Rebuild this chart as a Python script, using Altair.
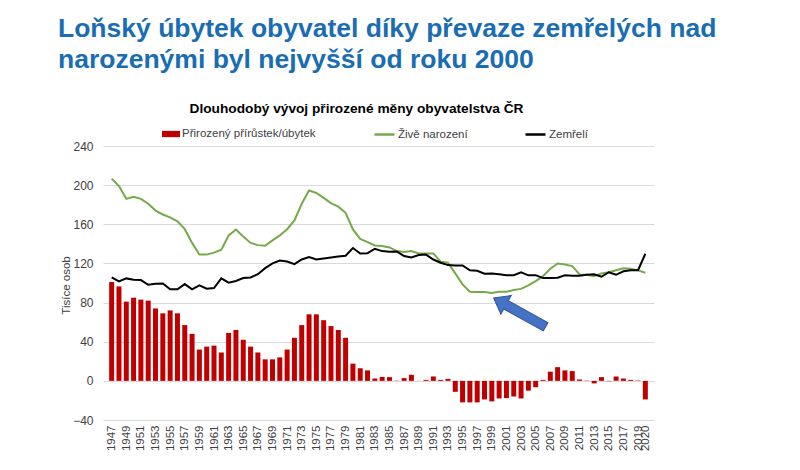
import altair as alt
import pandas as pd

# ---------------- data ----------------
years = list(range(1947, 2021))

increase = [
    101, 96.5, 81, 85, 83, 82, 74, 69, 72, 69,        # 1947-1956
    57, 48, 32, 35, 36, 29, 49, 52, 42, 35,           # 1957-1966
    29, 22, 22, 24, 32, 44, 57, 68, 68, 62,           # 1967-1976
    56, 52, 44, 17.6, 13, 10.7, 2.4, 4, 3.8, 0.3,     # 1977-1986
    2.8, 6.2, 0.1, 1, 4.5, 1, 2, -11.2, -22, -22,     # 1987-1996
    -22, -19, -21, -18, -17.6, -16, -18, -10, -6.5, 1,  # 1997-2006
    9.4, 14, 10.7, 10, 1.4, 0.3, -2.6, 3.8, -0.4, 4.5,  # 2007-2016
    2.4, 1, 0.4, -19,                                  # 2017-2020
]

births = [
    206.7, 199, 186, 188, 186, 181, 174, 170, 167, 163,       # 1947-1956
    155, 141, 129, 129, 131, 134, 148.6, 154.7, 147.6, 141,   # 1957-1966
    138.7, 138, 143.5, 148.6, 155, 164, 181, 194.5, 192, 187, # 1967-1976
    181.6, 178, 171.7, 154.7, 145, 141.8, 138.4, 137.7, 136.3, 132.6,  # 1977-1986
    131.6, 132.6, 130.2, 130.2, 130.2, 121.7, 120.7, 109.8, 98.6, 91,  # 1987-1996
    90.7, 90.7, 89.7, 91, 91, 92.8, 94, 97.6, 102, 107,       # 1997-2006
    114.6, 120, 119, 117.3, 108.8, 108.4, 107, 109.8, 111, 113,  # 2007-2016
    115, 114.6, 112.9, 110.5,                                 # 2017-2020
]

deaths = [
    105.7, 101.6, 104.7, 103.3, 103, 98.2, 99.3, 99.6, 93.5, 93.5,    # 1947-1956
    98.9, 93.5, 97.6, 94.2, 94.8, 104.7, 100.3, 102, 105, 105.7,      # 1957-1966
    109, 115.2, 120, 123, 122, 119.3, 124, 126.5, 124, 125,           # 1967-1976
    126, 127, 127.8, 135.7, 130.2, 130.5, 135, 132.6, 132, 132.2,     # 1977-1986
    127.5, 126, 128.5, 129, 124, 120.7, 118.3, 118, 118, 113,         # 1987-1996
    112.5, 109.5, 109.8, 109, 108, 108, 111, 107.8, 108, 105,         # 1997-2006
    105, 105.4, 107.8, 107.4, 107.4, 108.4, 109, 106.4, 111, 108.4,   # 2007-2016
    112, 113, 113, 129.9,                                             # 2017-2020
]

label_years = list(range(1947, 2020, 2)) + [2020]
y_ticks = [-40, 0, 40, 80, 120, 160, 200, 240]

BAR_NAME = "Přirozený přírůstek/úbytek"
BIRTHS_NAME = "Živě narození"
DEATHS_NAME = "Zemřelí"
MAIN_TITLE = ["Loňský úbytek obyvatel díky převaze zemřelých nad",
              "narozenými byl nejvyšší od roku 2000"]
CHART_TITLE = "Dlouhodobý vývoj přirozené měny obyvatelstva ČR"

# annotation arrow (centre in data units)
arrow_year = [2002.8]
arrow_value = [70.0]

# ---------------- tables ----------------
bars_df = pd.DataFrame({"year": years, "value": increase, "series": BAR_NAME})
lines_df = pd.DataFrame({
    "year": years + years,
    "value": births + deaths,
    "series": [BIRTHS_NAME] * len(years) + [DEATHS_NAME] * len(years),
})
arrow_df = pd.DataFrame({"year": arrow_year, "value": arrow_value})

FONT = "Liberation Sans"
TXT = "#404040"

x_scale = alt.Scale(domain=[1946.5, 2020.5], nice=False, zero=False)
y_scale = alt.Scale(domain=[-40, 240], nice=False)

x_axis = alt.Axis(values=label_years, format="d", labelAngle=270, ticks=False,
                  domain=False, grid=False, labelFontSize=11.5, labelColor=TXT,
                  labelFont=FONT, labelPadding=5, labelOverlap=False, title=None)
y_axis = alt.Axis(values=y_ticks, ticks=False, domain=False, grid=True, gridColor="#d9d9d9",
                  labelFontSize=12, labelColor=TXT, labelFont=FONT, labelPadding=10,
                  title="Tisíce osob", titleFontSize=11.5, titleFontWeight="normal",
                  titleColor=TXT, titleFont=FONT, titleX=-32, titleY=139)

bars = alt.Chart(bars_df).mark_bar(size=5, orient="vertical").encode(
    x=alt.X("year:Q", scale=x_scale, axis=x_axis),
    y=alt.Y("value:Q", scale=y_scale, axis=y_axis, stack=None),
    color=alt.Color("series:N",
                    scale=alt.Scale(domain=[BAR_NAME], range=["#c00000"]),
                    legend=alt.Legend(orient="none", legendX=59, legendY=-21, title=None,
                                      symbolType="M-1,-0.35L1,-0.35L1,0.35L-1,0.35Z",
                                      symbolSize=324, symbolStrokeWidth=0,
                                      labelFontSize=11.5, labelFont=FONT, labelColor=TXT,
                                      labelOffset=2)),
)

lines = alt.Chart(lines_df).mark_line(strokeWidth=2).encode(
    x=alt.X("year:Q", scale=x_scale, axis=None),
    y=alt.Y("value:Q", scale=y_scale, axis=None),
    stroke=alt.Stroke("series:N",
                      scale=alt.Scale(domain=[BIRTHS_NAME, DEATHS_NAME],
                                      range=["#77a84a", "#000000"]),
                      legend=alt.Legend(orient="none", legendX=270, legendY=-23, title=None,
                                        direction="horizontal", symbolType="stroke",
                                        symbolSize=400, symbolStrokeWidth=2.5,
                                        labelFontSize=11.5, labelFont=FONT, labelColor=TXT,
                                        labelOffset=2, columnPadding=52)),
    order=alt.Order("series:N", sort="descending"),
)

ARROW_PATH = "M0,-1L0.36,-0.52L0.16,-0.52L0.16,1L-0.16,1L-0.16,-0.52L-0.36,-0.52Z"
arrow = alt.Chart(arrow_df).mark_point(
    shape=ARROW_PATH, size=3540, angle=299, filled=True, fill="#4472c4",
    stroke="#2f5597", strokeWidth=1, opacity=1,
).encode(
    x=alt.X("year:Q", scale=x_scale,
            axis=alt.Axis(orient="top", title=CHART_TITLE, labels=False, ticks=False,
                          domain=False, grid=False, titleFontSize=13.7, titleFontWeight="bold",
                          titleColor="#000000", titleFont=FONT, titleX=253, titleY=-34,
                          titleAlign="center", titleBaseline="alphabetic")),
    y=alt.Y("value:Q", scale=y_scale, axis=None),
)

chart = alt.layer(bars, lines, arrow).resolve_axis(x="independent", y="independent").properties(
    width=551,
    height=274,
    title=alt.TitleParams(text=MAIN_TITLE, anchor="start", frame="group", dx=-45,
                          fontSize=26.5, font=FONT, fontWeight="bold", color="#1a6db3",
                          lineHeight=31, offset=28),
    autosize=alt.AutoSizeParams(type="none"),
    padding={"left": 95, "top": 138, "right": 138, "bottom": 42},
    background="white",
).configure_view(stroke=None)

chart.save("out.html", embed_options={"renderer": "svg", "actions": False})
